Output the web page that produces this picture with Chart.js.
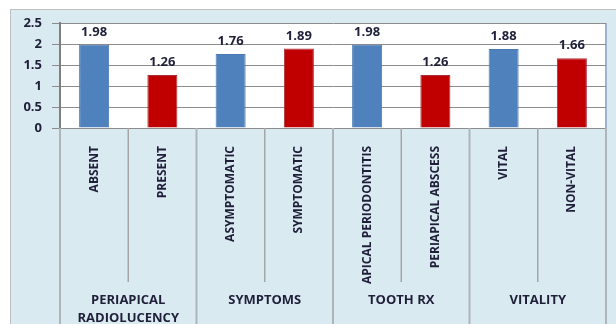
<!DOCTYPE html>
<html>
<head>
<meta charset="utf-8">
<script src="https://cdn.jsdelivr.net/npm/chart.js@4.4.0/dist/chart.umd.min.js"></script>
<style>
  html, body { margin: 0; padding: 0; background: #fff; }
  #wrap { width: 616px; height: 324px; }
</style>
</head>
<body>
<div id="wrap"><canvas id="chart" width="616" height="324"></canvas></div>
<script>
// chart data
const categories = ['ABSENT', 'PRESENT', 'ASYMPTOMATIC', 'SYMPTOMATIC', 'APICAL PERIODONTITIS', 'PERIAPICAL ABSCESS', 'VITAL', 'NON-VITAL'];
const values = [1.98, 1.26, 1.76, 1.89, 1.98, 1.26, 1.88, 1.66];
const groupNames = [['PERIAPICAL', 'RADIOLUCENCY'], ['SYMPTOMS'], ['TOOTH RX'], ['VITALITY']];
const groupSpans = [2, 2, 2, 2];
const yTickLabels = ['0', '0.5', '1', '1.5', '2', '2.5'];

const BLUE = '#4F81BD';
const RED = '#C00000';
const TEXT = '#1F1F3A';
const FONT = '"Open Sans", sans-serif';

// background panel + white plot area
const backdrop = {
  id: 'backdrop',
  beforeDraw(chart) {
    const c = chart.ctx, a = chart.chartArea;
    c.save();
    c.fillStyle = '#fff';
    c.fillRect(0, 0, chart.width, chart.height);
    c.fillStyle = '#DAEAF1';
    c.fillRect(10, 9, chart.width, chart.height);
    c.strokeStyle = '#BFBFBF';
    c.lineWidth = 1;
    c.strokeRect(10.5, 9.5, chart.width, chart.height);
    c.fillStyle = '#fff';
    c.fillRect(a.left, a.top, a.right - a.left, a.bottom - a.top);
    c.strokeStyle = '#9DB3D0';
    c.lineWidth = 2;
    c.beginPath();
    c.moveTo(a.right, a.top);
    c.lineTo(a.right, a.bottom);
    c.stroke();
    c.restore();
  }
};

// category dividers, group labels and value labels
const extras = {
  id: 'extras',
  afterDraw(chart) {
    const c = chart.ctx, a = chart.chartArea;
    const x = chart.scales.x;
    const meta = chart.getDatasetMeta(0);
    c.save();

    // dividers below the axis
    let start = 0;
    const groupEdges = [0];
    groupSpans.forEach(n => { start += n; groupEdges.push(start); });
    for (let i = 0; i <= categories.length; i++) {
      const px = x.getPixelForValue(i - 0.5);
      const isGroup = groupEdges.includes(i);
      c.beginPath();
      c.strokeStyle = isGroup ? '#AEB4B8' : '#A6A6A6';
      c.lineWidth = isGroup ? 2 : 1.5;
      c.moveTo(px, a.bottom);
      c.lineTo(px, isGroup ? chart.height : 282);
      c.stroke();
    }

    // group labels
    c.fillStyle = TEXT;
    c.font = 'bold 13px ' + FONT;
    c.textAlign = 'center';
    c.textBaseline = 'middle';
    groupNames.forEach((lines, g) => {
      const l = x.getPixelForValue(groupEdges[g] - 0.5);
      const r = x.getPixelForValue(groupEdges[g + 1] - 0.5);
      lines.forEach((t, k) => c.fillText(t, (l + r) / 2, 300 + k * 18));
    });

    // value labels
    c.textBaseline = 'alphabetic';
    meta.data.forEach((bar, i) => {
      c.fillText(values[i].toFixed(2), bar.x, bar.y - 9);
    });
    c.restore();
  }
};

new Chart(document.getElementById('chart'), {
  type: 'bar',
  data: {
    labels: categories,
    datasets: [{
      data: values,
      backgroundColor: values.map((v, i) => i % 2 ? RED : BLUE),
      borderColor: values.map((v, i) => i % 2 ? '#A8303A' : '#4A7AB3'),
      borderWidth: 1,
      barPercentage: 0.44,
      categoryPercentage: 1
    }]
  },
  plugins: [backdrop, extras],
  options: {
    responsive: false,
    animation: false,
    layout: { padding: { top: 23, right: 10, left: 0, bottom: 0 } },
    plugins: {
      legend: { display: false },
      tooltip: { enabled: false }
    },
    scales: {
      x: {
        offset: true,
        grid: { display: false },
        border: { display: true, color: '#8C8C8C', width: 1 },
        ticks: {
          autoSkip: false,
          minRotation: 90,
          maxRotation: 90,
          padding: 10,
          color: TEXT,
          font: { family: FONT, size: 12, weight: 'bold' }
        },
        afterFit(scale) { scale.height = 196; }
      },
      y: {
        min: 0,
        max: 2.5,
        ticks: {
          stepSize: 0.5,
          padding: 10,
          color: TEXT,
          font: { family: FONT, size: 13, weight: 'bold' },
          callback: (v, i) => yTickLabels[i]
        },
        grid: { color: '#8C8C8C', lineWidth: 1, tickLength: 8, tickColor: '#8C8C8C' },
        border: { color: '#7F7F7F', width: 2 },
        afterFit(scale) { scale.width = 60; }
      }
    }
  }
});
</script>
</body>
</html>
